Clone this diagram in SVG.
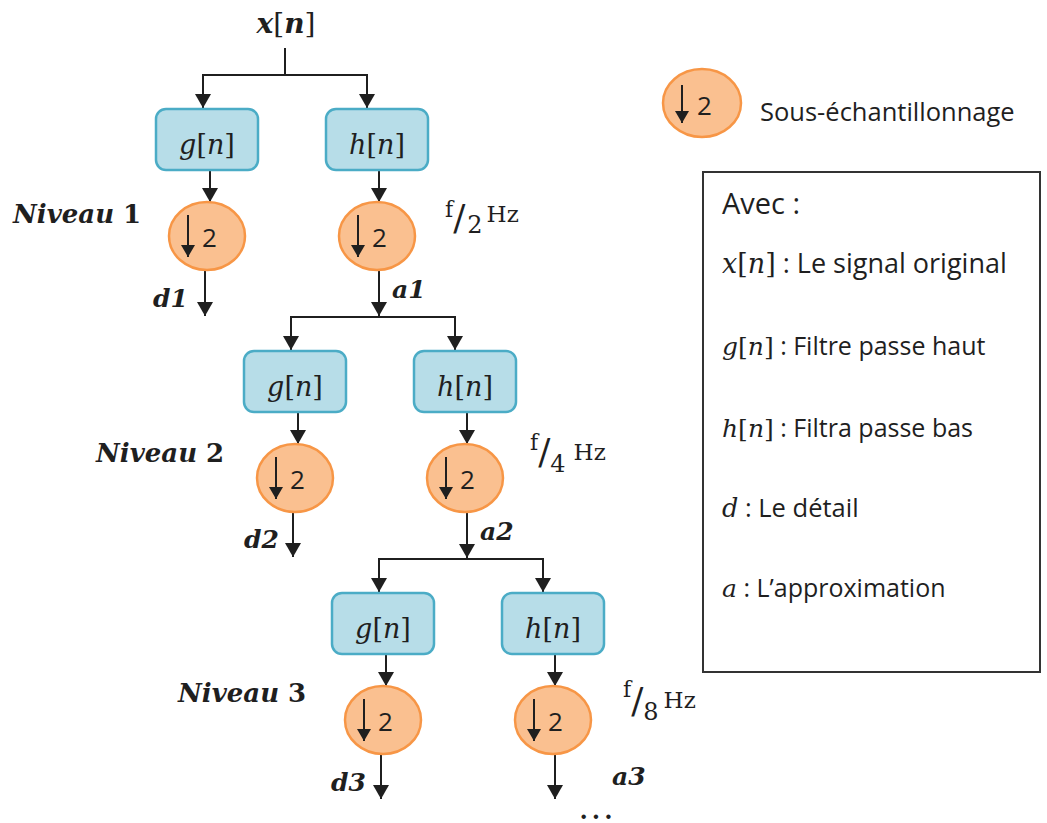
<svg xmlns="http://www.w3.org/2000/svg" width="1047" height="823" viewBox="0 0 1047 823">
<defs>
<style>
.box{fill:#b7dde8;stroke:#4bacc6;stroke-width:2.5}
.ds{fill:#fac090;stroke:#f79646;stroke-width:2.5}
.ln{fill:none;stroke:#1f1f1f;stroke-width:2}
.m{font-family:"DejaVu Serif","Liberation Serif",serif;fill:#1f1f1f}
.mi{font-style:italic}
.b{font-weight:bold}
.t{font-family:"Open Sans","Liberation Sans",sans-serif;fill:#1f1f1f}
.hz{font-family:"DejaVu Serif","Liberation Serif",serif;fill:#1f1f1f}
</style>
<marker id="ah" markerUnits="userSpaceOnUse" markerWidth="16" markerHeight="16" viewBox="0 0 14 16" refX="14" refY="8" orient="auto">
<path d="M0,0 L14,8 L0,16 z" fill="#1f1f1f"/>
</marker>
<marker id="ahs" markerUnits="userSpaceOnUse" markerWidth="14" markerHeight="14" viewBox="0 0 12 14" refX="12" refY="7" orient="auto">
<path d="M0,0 L12,7 L0,14 z" fill="#1f1f1f"/>
</marker>
<g id="dsym">
<ellipse class="ds" cx="0" cy="0" rx="38" ry="34"/>
<line class="ln" x1="-19" y1="-21" x2="-19" y2="21" marker-end="url(#ahs)"/>
<text class="t" x="-5" y="11" font-size="26">2</text>
</g>
</defs>
<rect width="1047" height="823" fill="#ffffff"/>

<g id="connectors">
<line class="ln" x1="285" y1="48" x2="285" y2="75"/>
<!-- level 1 -->
<polyline class="ln" points="203,108 203,75 367,75 367,108" marker-end="url(#ah)"/>
<line class="ln" x1="203" y1="75" x2="203" y2="108" marker-end="url(#ah)"/>
<line class="ln" x1="210" y1="170" x2="210" y2="202" marker-end="url(#ah)"/>
<line class="ln" x1="379" y1="170" x2="379" y2="202" marker-end="url(#ah)"/>
<line class="ln" x1="205" y1="270" x2="205" y2="316" marker-end="url(#ah)"/>
<line class="ln" x1="379" y1="270" x2="379" y2="316" marker-end="url(#ah)"/>
<!-- level 2 -->
<polyline class="ln" points="291,350 291,317 455,317 455,350" marker-end="url(#ah)"/>
<line class="ln" x1="291" y1="317" x2="291" y2="350" marker-end="url(#ah)"/>
<line class="ln" x1="298" y1="412" x2="298" y2="444" marker-end="url(#ah)"/>
<line class="ln" x1="467" y1="412" x2="467" y2="444" marker-end="url(#ah)"/>
<line class="ln" x1="293" y1="512" x2="293" y2="557" marker-end="url(#ah)"/>
<line class="ln" x1="467" y1="512" x2="467" y2="558" marker-end="url(#ah)"/>
<!-- level 3 -->
<polyline class="ln" points="379,592 379,559 543,559 543,592" marker-end="url(#ah)"/>
<line class="ln" x1="379" y1="559" x2="379" y2="592" marker-end="url(#ah)"/>
<line class="ln" x1="386" y1="654" x2="386" y2="686" marker-end="url(#ah)"/>
<line class="ln" x1="555" y1="654" x2="555" y2="686" marker-end="url(#ah)"/>
<line class="ln" x1="381" y1="754" x2="381" y2="799" marker-end="url(#ah)"/>
<line class="ln" x1="555" y1="754" x2="555" y2="799" marker-end="url(#ah)"/>
</g>

<g id="input">
<text class="m" x="286" y="33" font-size="28" text-anchor="middle"><tspan class="mi b">x</tspan><tspan>[</tspan><tspan class="mi b">n</tspan><tspan>]</tspan></text>
</g>

<!-- Level 1 -->
<g id="g1"><rect class="box" x="156" y="109" width="102" height="61" rx="10"/>
<text class="m" x="207" y="154" font-size="27" text-anchor="middle"><tspan class="mi">g</tspan>[<tspan class="mi">n</tspan>]</text></g>
<g id="h1"><rect class="box" x="326" y="109" width="102" height="61" rx="10"/>
<text class="m" x="377" y="154" font-size="27" text-anchor="middle"><tspan class="mi">h</tspan>[<tspan class="mi">n</tspan>]</text></g>
<g id="dg1"><use href="#dsym" x="207" y="236"/></g>
<g id="dh1"><use href="#dsym" x="377" y="236"/></g>
<g id="niveau1"><text class="m b" x="13" y="223" font-size="26"><tspan class="mi">Niveau</tspan> 1</text></g>
<g id="d1"><text class="m b mi" x="153" y="307" font-size="25">d1</text></g>
<g id="a1"><text class="m b mi" x="392" y="298" font-size="25">a1</text></g>
<g id="f2"><text class="hz" x="445" y="217"><tspan font-size="22">f</tspan><tspan font-size="36" dy="13">/</tspan><tspan font-size="24" dx="2" dy="3">2</tspan><tspan font-size="23" dx="4" dy="-11">Hz</tspan></text></g>

<!-- Level 2 -->
<g id="g2"><rect class="box" x="244" y="351" width="102" height="61" rx="10"/>
<text class="m" x="295" y="396" font-size="27" text-anchor="middle"><tspan class="mi">g</tspan>[<tspan class="mi">n</tspan>]</text></g>
<g id="h2"><rect class="box" x="414" y="351" width="102" height="61" rx="10"/>
<text class="m" x="465" y="396" font-size="27" text-anchor="middle"><tspan class="mi">h</tspan>[<tspan class="mi">n</tspan>]</text></g>
<g id="dg2"><use href="#dsym" x="295" y="478"/></g>
<g id="dh2"><use href="#dsym" x="465" y="478"/></g>
<g id="niveau2"><text class="m b" x="96" y="462" font-size="26"><tspan class="mi">Niveau</tspan> 2</text></g>
<g id="d2"><text class="m b mi" x="244" y="548" font-size="25">d2</text></g>
<g id="a2"><text class="m b mi" x="480" y="540" font-size="25">a2</text></g>
<g id="f4"><text class="hz" x="530" y="450"><tspan font-size="22">f</tspan><tspan font-size="36" dy="14">/</tspan><tspan font-size="24" dy="8">4</tspan><tspan font-size="23" dx="8" dy="-12">Hz</tspan></text></g>

<!-- Level 3 -->
<g id="g3"><rect class="box" x="332" y="593" width="102" height="61" rx="10"/>
<text class="m" x="383" y="638" font-size="27" text-anchor="middle"><tspan class="mi">g</tspan>[<tspan class="mi">n</tspan>]</text></g>
<g id="h3"><rect class="box" x="502" y="593" width="102" height="61" rx="10"/>
<text class="m" x="553" y="638" font-size="27" text-anchor="middle"><tspan class="mi">h</tspan>[<tspan class="mi">n</tspan>]</text></g>
<g id="dg3"><use href="#dsym" x="383" y="720"/></g>
<g id="dh3"><use href="#dsym" x="553" y="720"/></g>
<g id="niveau3"><text class="m b" x="178" y="702" font-size="26"><tspan class="mi">Niveau</tspan> 3</text></g>
<g id="d3"><text class="m b mi" x="331" y="791" font-size="25">d3</text></g>
<g id="a3"><text class="m b mi" x="612" y="785" font-size="25">a3</text></g>
<g id="f8"><text class="hz" x="623" y="697"><tspan font-size="22">f</tspan><tspan font-size="36" dy="16">/</tspan><tspan font-size="24" dy="7">8</tspan><tspan font-size="23" dx="5" dy="-12">Hz</tspan></text></g>
<g id="dots"><text class="m b" x="598" y="819" font-size="24" text-anchor="middle" letter-spacing="4">...</text></g>

<!-- Legend -->
<g id="legend-symbol"><ellipse class="ds" cx="702" cy="103" rx="39" ry="34"/>
<line class="ln" x1="682" y1="85" x2="682" y2="123" marker-end="url(#ahs)"/>
<text class="t" x="697" y="115" font-size="26">2</text>
<text class="t" x="760" y="121" font-size="25.5">Sous-échantillonnage</text></g>
<g id="legend-box">
<rect x="703" y="172" width="337" height="500" fill="#ffffff" stroke="#333333" stroke-width="2"/>
<text class="t" x="722" y="214" font-size="29">Avec :</text>
<text x="722" y="273" font-size="27"><tspan class="m mi">x</tspan><tspan class="m">[</tspan><tspan class="m mi">n</tspan><tspan class="m">]</tspan><tspan class="t"> : Le signal original</tspan></text>
<text x="722" y="355" font-size="25"><tspan class="m mi">g</tspan><tspan class="m">[</tspan><tspan class="m mi">n</tspan><tspan class="m">]</tspan><tspan class="t"> : Filtre passe haut</tspan></text>
<text x="722" y="437" font-size="25"><tspan class="m mi">h</tspan><tspan class="m">[</tspan><tspan class="m mi">n</tspan><tspan class="m">]</tspan><tspan class="t"> : Filtra passe bas</tspan></text>
<text x="722" y="517" font-size="25.5"><tspan class="m mi">d</tspan><tspan class="t"> : Le détail</tspan></text>
<text x="722" y="597" font-size="25"><tspan class="m mi">a</tspan><tspan class="t"> : L’approximation</tspan></text>
</g>
</svg>
